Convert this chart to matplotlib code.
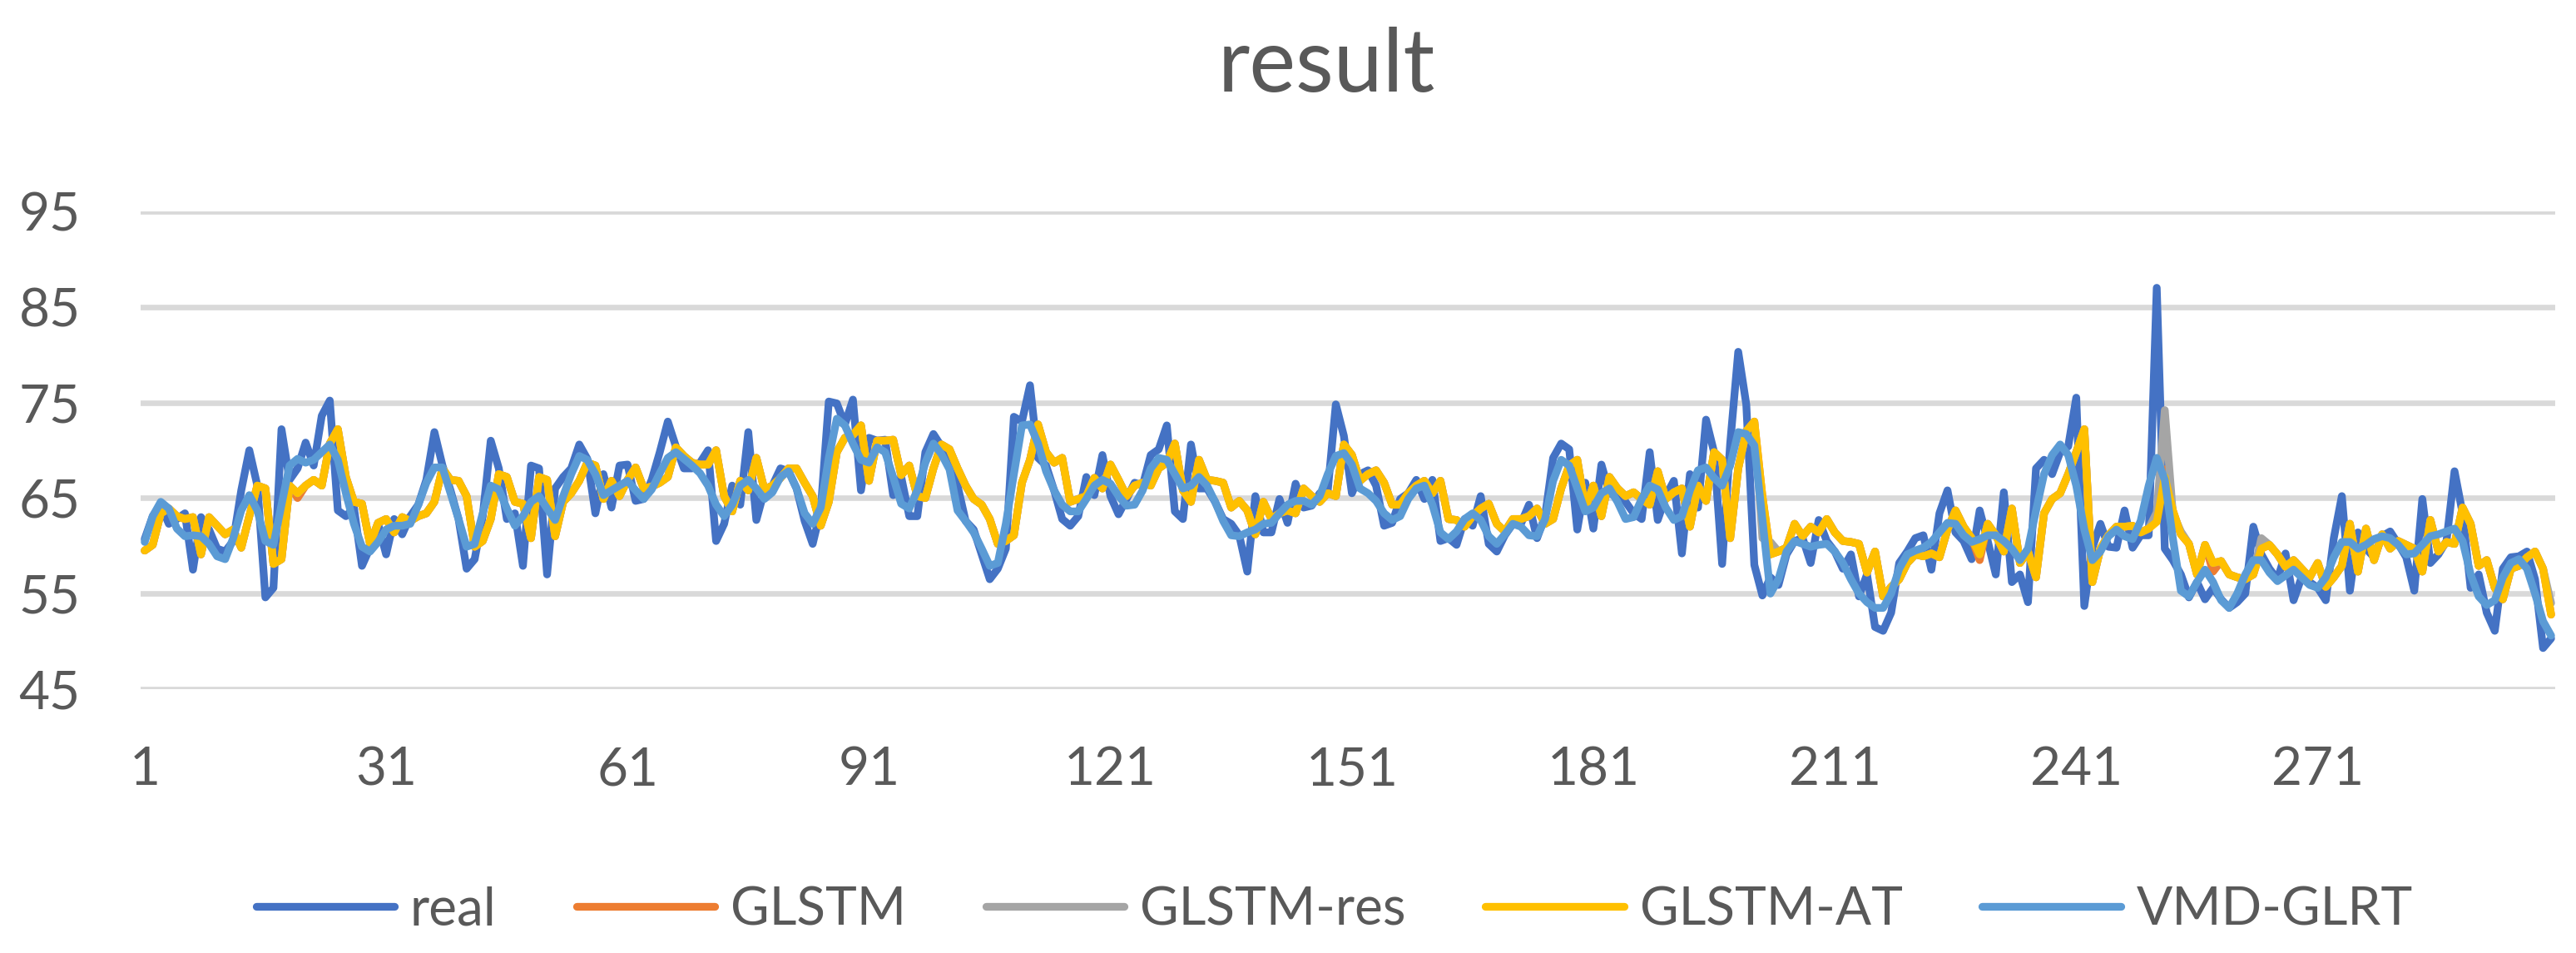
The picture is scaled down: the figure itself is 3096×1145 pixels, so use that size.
import matplotlib
matplotlib.use("Agg")
import matplotlib.pyplot as plt

plt.rcParams['font.family'] = ['Lato', 'DejaVu Sans']

# values, one per time step (1..300)
real = [
    60.7, 63.1, 64.3, 62.3, 62.8, 63.4, 57.5, 63.0, 61.7, 59.7,
    59.4, 60.5, 65.8, 70.0, 66.3, 54.6, 55.6, 72.2, 66.9, 68.1,
    70.8, 68.4, 73.6, 75.2, 63.7, 63.1, 64.0, 57.9, 59.8, 62.3,
    59.1, 62.8, 61.2, 63.1, 64.3, 66.9, 71.9, 68.4, 65.8, 62.8,
    57.6, 58.6, 63.1, 71.0, 68.1, 62.8, 63.4, 57.9, 68.4, 68.1,
    57.0, 66.0, 67.2, 68.1, 70.6, 69.1, 63.4, 67.5, 64.0, 68.4,
    68.5, 64.7, 64.9, 66.9, 69.8, 73.0, 70.4, 68.1, 68.1, 68.7,
    70.0, 60.5, 62.3, 66.3, 64.3, 71.9, 62.7, 65.8, 66.3, 68.1,
    67.8, 66.0, 62.6, 60.2, 63.7, 75.1, 74.9, 72.7, 75.3, 65.8,
    71.3, 71.0, 71.1, 65.3, 67.2, 63.1, 63.1, 69.8, 71.7, 70.4,
    68.8, 66.3, 62.6, 61.7, 59.1, 56.5, 57.6, 59.7, 73.5, 73.0,
    76.8, 69.2, 68.4, 65.8, 62.8, 62.1, 63.1, 67.2, 65.3, 69.5,
    65.2, 63.3, 64.9, 66.6, 66.3, 69.5, 70.1, 72.6, 63.6, 62.8,
    70.6, 66.0, 66.0, 64.6, 62.8, 62.3, 61.1, 57.3, 65.2, 61.4,
    61.4, 64.9, 62.4, 66.5, 64.0, 64.2, 65.5, 65.8, 74.8, 71.5,
    65.5, 67.5, 67.9, 66.3, 62.1, 62.4, 64.9, 65.5, 66.9, 64.9,
    66.9, 60.5, 60.8, 60.1, 62.8, 62.1, 65.2, 60.2, 59.4, 61.1,
    62.3, 62.3, 64.3, 60.8, 63.1, 69.2, 70.7, 70.1, 61.7, 66.6,
    61.8, 68.5, 65.5, 65.2, 64.6, 63.4, 62.8, 69.8, 62.7, 65.2,
    66.8, 59.2, 67.5, 64.0, 73.2, 69.8, 58.1, 70.7, 80.3, 74.8,
    58.0, 54.8, 56.7, 55.9, 59.1, 60.5, 60.8, 58.2, 62.7, 60.5,
    59.4, 57.6, 59.1, 54.7, 57.0, 51.5, 51.1, 53.0, 58.2, 59.4,
    60.8, 61.1, 57.5, 63.4, 65.8, 61.4, 60.5, 58.6, 63.7, 60.5,
    57.0, 65.6, 56.2, 57.0, 54.1, 68.1, 69.0, 67.5, 69.8, 70.4,
    75.5, 53.7, 59.8, 62.3, 59.9, 59.8, 63.7, 59.8, 61.1, 61.1,
    87.0, 59.7, 58.5, 57.0, 54.6, 56.2, 54.4, 55.6, 54.4, 53.5,
    54.1, 55.0, 62.0, 59.1, 57.6, 56.5, 59.2, 54.3, 56.7, 56.2,
    55.6, 54.3, 60.8, 65.2, 55.3, 61.4, 59.7, 58.8, 61.0, 61.5,
    60.2, 58.8, 55.3, 64.9, 58.2, 59.1, 60.5, 67.8, 63.4, 55.6,
    57.0, 53.0, 51.1, 57.6, 58.8, 58.9, 59.4, 56.5, 49.3, 50.3,
]

glstm_at = [
    59.5, 60.1, 63.4, 63.9, 63.1, 62.8, 63.0, 59.1, 63.0, 62.1,
    61.2, 61.7, 59.8, 63.1, 66.3, 66.0, 58.1, 58.6, 66.3, 65.5,
    66.3, 66.9, 66.3, 70.7, 72.2, 67.2, 64.6, 64.4, 60.2, 62.4,
    62.8, 61.4, 63.0, 62.6, 63.1, 63.4, 64.6, 68.1, 66.9, 66.8,
    65.2, 59.9, 60.5, 62.8, 67.5, 67.2, 64.6, 64.4, 60.8, 67.2,
    66.9, 61.0, 64.6, 65.5, 66.8, 68.7, 68.4, 64.9, 66.8, 65.2,
    66.9, 68.2, 66.0, 66.2, 66.6, 67.2, 70.3, 69.4, 68.7, 68.5,
    68.5, 70.0, 65.2, 63.6, 66.8, 65.8, 69.2, 65.9, 66.3, 67.1,
    68.1, 68.1, 66.6, 65.2, 62.1, 64.6, 69.8, 71.3, 71.6, 72.6,
    66.8, 71.0, 71.0, 71.1, 67.4, 68.4, 65.2, 65.0, 68.1, 70.6,
    70.1, 68.1, 66.3, 64.9, 64.3, 62.8, 60.2, 60.5, 61.1, 66.6,
    69.0, 72.7, 69.8, 68.7, 69.2, 64.6, 64.9, 65.2, 67.1, 66.0,
    68.5, 66.9, 65.2, 66.3, 66.6, 66.3, 68.1, 68.7, 70.7, 65.8,
    64.6, 69.0, 66.9, 66.8, 66.6, 64.0, 64.7, 63.7, 61.2, 64.6,
    62.8, 63.4, 63.7, 63.4, 66.0, 65.2, 64.6, 65.5, 65.2, 70.6,
    69.5, 66.8, 67.5, 67.9, 66.6, 64.3, 64.3, 65.5, 66.3, 66.8,
    65.5, 66.8, 62.8, 62.7, 62.0, 63.1, 63.9, 64.4, 62.3, 61.5,
    62.8, 62.8, 63.1, 63.9, 62.3, 62.8, 66.0, 68.4, 69.0, 63.9,
    66.3, 63.1, 67.2, 66.0, 65.2, 65.6, 64.9, 64.3, 67.8, 64.9,
    65.6, 66.0, 62.0, 66.3, 64.7, 69.8, 69.0, 60.8, 68.1, 72.0,
    73.0, 65.2, 59.1, 59.4, 59.8, 62.3, 61.0, 62.0, 61.4, 62.8,
    61.4, 60.5, 60.4, 60.2, 57.2, 59.4, 54.7, 55.7, 56.5, 58.2,
    59.1, 58.9, 59.2, 58.8, 61.7, 63.7, 62.0, 60.8, 59.1, 62.3,
    61.1, 59.4, 63.9, 58.2, 59.4, 56.7, 63.4, 64.9, 65.5, 67.5,
    69.8, 72.2, 56.2, 59.7, 61.1, 62.0, 62.0, 62.1, 61.4, 61.8,
    62.5, 67.2, 63.7, 61.2, 60.2, 57.0, 60.1, 58.2, 58.4, 57.0,
    56.7, 56.5, 57.0, 59.7, 60.1, 59.1, 57.8, 58.5, 57.6, 56.7,
    58.2, 55.7, 56.7, 57.9, 62.3, 57.3, 61.8, 58.5, 61.2, 59.7,
    60.5, 60.1, 59.7, 57.3, 62.7, 59.4, 60.4, 60.2, 64.0, 62.3,
    57.9, 58.5, 55.6, 54.4, 57.6, 57.9, 58.8, 59.4, 57.6, 52.8,
]

vmd_glrt = [
    60.4, 63.1, 64.6, 63.9, 61.8, 61.0, 61.1, 61.0, 60.2, 58.9,
    58.6, 60.8, 63.7, 65.3, 63.7, 60.5, 60.1, 64.3, 68.4, 69.1,
    68.7, 69.0, 69.8, 70.6, 69.0, 65.5, 62.3, 59.9, 59.4, 60.4,
    61.7, 62.1, 62.1, 62.3, 64.3, 66.6, 68.2, 68.2, 65.5, 62.8,
    59.9, 60.2, 63.4, 66.3, 65.9, 63.9, 62.1, 63.1, 64.6, 65.2,
    63.9, 62.7, 65.2, 67.5, 69.4, 69.0, 67.5, 65.3, 65.8, 66.3,
    66.8, 65.8, 64.9, 65.9, 67.6, 69.2, 69.8, 69.1, 68.4, 67.6,
    66.3, 64.3, 63.1, 64.3, 66.3, 66.9, 66.0, 64.9, 65.6, 67.2,
    67.8, 66.0, 63.4, 62.3, 64.0, 69.2, 73.3, 72.6, 70.7, 69.0,
    68.7, 70.3, 69.8, 67.2, 64.4, 63.9, 65.8, 68.7, 70.7, 69.6,
    68.0, 63.7, 62.6, 61.4, 59.7, 57.9, 58.2, 62.3, 67.5, 72.6,
    72.7, 70.7, 67.8, 65.8, 64.3, 63.6, 63.6, 64.9, 66.3, 66.9,
    66.5, 65.2, 64.2, 64.3, 65.8, 68.1, 69.2, 69.0, 67.5, 66.0,
    66.3, 67.2, 66.3, 64.6, 62.6, 61.1, 61.0, 61.4, 61.7, 62.3,
    62.4, 63.4, 64.3, 64.7, 64.7, 64.3, 65.2, 67.5, 69.4, 69.7,
    68.5, 66.0, 65.5, 64.7, 63.4, 62.7, 63.1, 64.9, 66.0, 66.3,
    64.3, 61.4, 60.7, 61.5, 62.8, 63.4, 62.7, 61.0, 60.2, 61.2,
    62.3, 62.0, 61.1, 61.0, 62.8, 66.8, 69.0, 68.4, 66.0, 63.6,
    64.0, 65.5, 66.0, 64.6, 62.8, 63.0, 64.9, 66.3, 65.9, 64.0,
    62.7, 63.1, 65.8, 67.9, 68.2, 67.1, 66.3, 68.4, 71.9, 71.7,
    70.5, 62.8, 55.0, 56.5, 59.4, 60.5, 60.2, 59.9, 60.1, 60.2,
    59.4, 58.2, 56.5, 55.0, 54.1, 53.5, 53.5, 55.0, 57.6, 59.1,
    59.5, 59.8, 60.4, 61.4, 62.4, 62.3, 61.1, 60.4, 60.7, 61.1,
    61.1, 60.5, 59.7, 58.5, 59.7, 63.7, 67.5, 69.5, 70.6, 69.5,
    66.3, 61.7, 58.5, 59.4, 61.0, 61.7, 61.0, 60.7, 62.6, 66.3,
    69.2, 66.9, 60.8, 55.3, 54.7, 56.2, 57.5, 56.2, 54.3, 53.5,
    55.0, 57.0, 58.5, 58.5, 57.2, 56.3, 56.9, 57.5, 56.7, 55.9,
    55.6, 56.7, 58.8, 60.4, 60.4, 59.7, 60.1, 60.7, 61.0, 60.8,
    60.1, 59.1, 59.2, 60.1, 61.0, 61.2, 61.5, 61.8, 60.5, 57.0,
    54.7, 53.8, 54.3, 56.7, 58.2, 58.6, 57.6, 55.0, 52.1, 50.6,
]

# GLSTM and GLSTM-res lie under GLSTM-AT almost everywhere;
# only the steps where they show apart are listed here
glstm_res_diff = {202: 60.8, 203: 60.4, 251: 63.5, 252: 74.2, 253: 63.4,
                  254: 61.5, 264: 60.8, 300: 54.0}
glstm_diff = {20: 65.0, 229: 58.5, 258: 57.3, 251: 62.8, 252: 68.0}

glstm_res = list(glstm_at)
for k, v in glstm_res_diff.items():
    glstm_res[k - 1] = v
glstm = list(glstm_at)
for k, v in glstm_diff.items():
    glstm[k - 1] = v

steps = list(range(1, len(real) + 1))
series = [("real", real, "#4472C4"),
          ("GLSTM", glstm, "#ED7D31"),
          ("GLSTM-res", glstm_res, "#A5A5A5"),
          ("GLSTM-AT", glstm_at, "#FFC000"),
          ("VMD-GLRT", vmd_glrt, "#5B9BD5")]
xticks = list(range(1, 301, 30))
yticks = [45, 55, 65, 75, 85, 95]

txt = "#595959"
fig = plt.figure(figsize=(30.96, 11.45), dpi=100)
ax = fig.add_axes([0.0546, 0.2769, 0.9373, 0.5013])

for name, vals, col in series:
    ax.plot(steps, vals, color=col, lw=6.7, label=name,
            solid_capstyle="round", solid_joinstyle="round")

ax.set_xlim(0.5, 300.5)
ax.set_ylim(45, 95)
ax.set_yticks(yticks)
ax.set_xticks(xticks)
ax.grid(axis="y", color="#D9D9D9", lw=4.8)
ax.set_axisbelow(True)
for s in ax.spines.values():
    s.set_visible(False)
ax.tick_params(axis="both", length=0, labelsize=46, labelcolor=txt)
ax.tick_params(axis="y", pad=52)
ax.tick_params(axis="x", pad=49)

fig.text(0.515, 0.930, "result", ha="center", va="center",
         fontsize=76, color=txt)

leg = fig.legend(loc="center", bbox_to_anchor=(0.518, 0.0454), ncol=5,
                 frameon=False, fontsize=46, handlelength=2.6,
                 handletextpad=0.3, columnspacing=1.5)
for t in leg.get_texts():
    t.set_color(txt)

fig.savefig("out.png", dpi=100)
